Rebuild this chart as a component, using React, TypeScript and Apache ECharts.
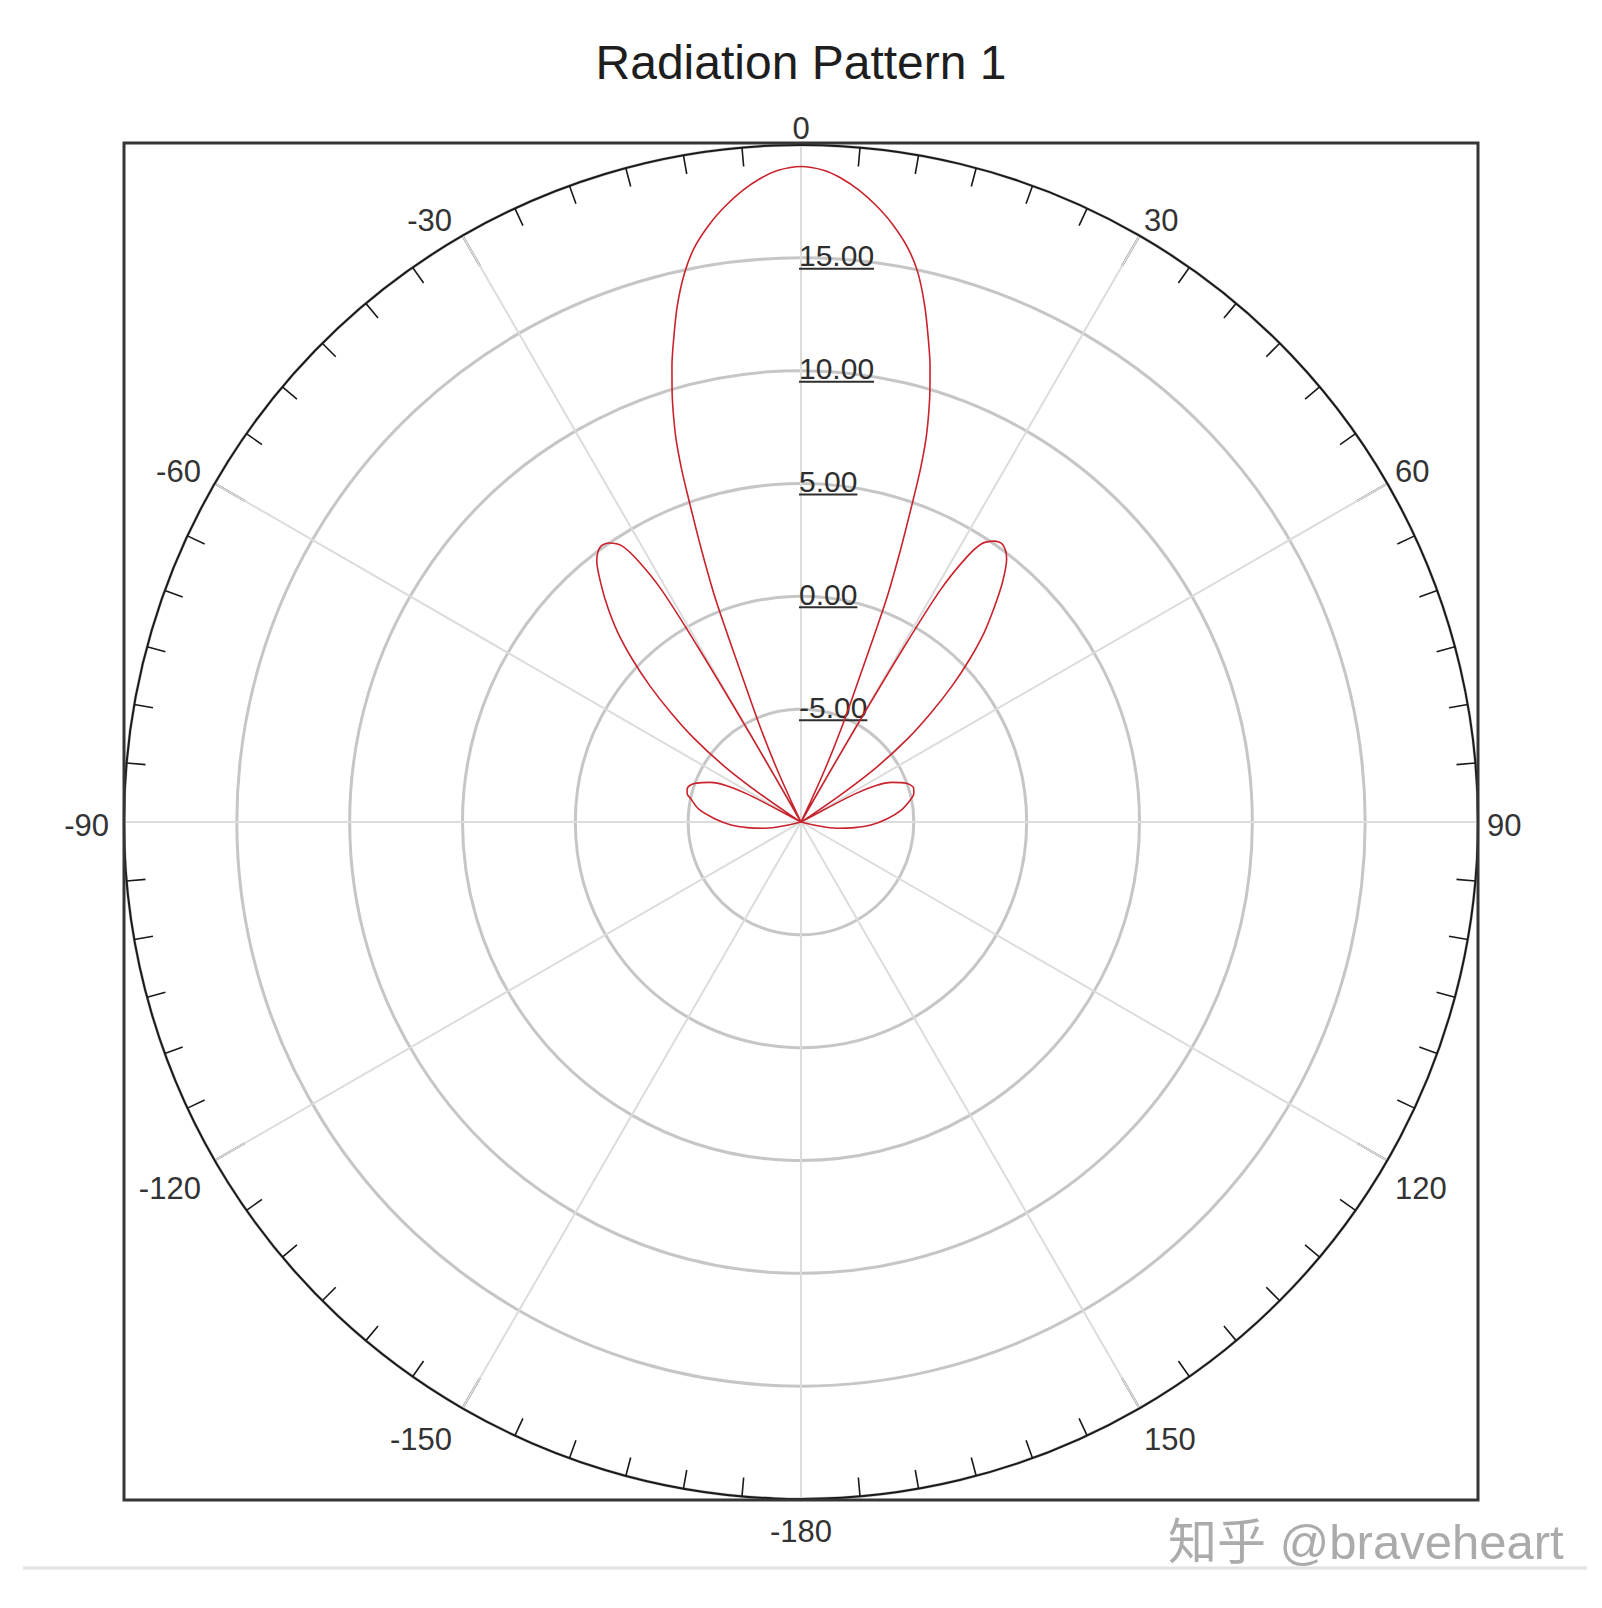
import React, { useEffect, useRef } from "react";
import * as echarts from "echarts";

const TITLE = "Radiation Pattern 1";
const WATERMARK = "知乎 @braveheart";
const FONT = '"Liberation Sans", Arial, Helvetica, sans-serif';

// angle axis (degrees) and radial axis (dB)
const ANGLE_MIN = -180;
const ANGLE_MAX = 180;
const ANGLE_STEP = 30;
const angleLabelValues = [-180, -150, -120, -90, -60, -30, 0, 30, 60, 90, 120, 150];
const GAIN_MIN = -10;
const GAIN_MAX = 20;
const GAIN_STEP = 5;
const gainLabelValues = [-5, 0, 5, 10, 15];

// pattern: angle (deg) -> gain (dB), -10 = centre
const patternAngles = [
  -180, -110, -105, -103, -100, -96, -92.5, -88, -83, -78, -76, -74, -72, -70, -66.5, -64, -62.5, -62, -61,
  -58, -57, -55.5, -54, -52, -50, -48, -46, -44, -42, -40, -38, -36, -34.5, -33, -32, -31, -30.5, -30, -29,
  -26.3, -25.5, -24.4, -23.3, -22.2, -21, -20.1, -19.2, -18.7, -18.1, -17.4, -16.6, -15.8, -14.8, -13.5,
  -12, -10.5, -8.7, -7, -5.3, -3.5, -2, 0,
  2, 3.5, 5.3, 7, 8.7, 10.5, 12, 13.5, 14.8, 15.8, 16.6, 17.4, 18.1, 18.7, 19.2, 20.1, 21, 22.2, 23.3,
  24.4, 25.5, 26.3,
  29, 30, 30.5, 31, 32, 33, 34.5, 36, 38, 40, 42, 44, 46, 48, 50, 52, 54, 55.5, 57, 58,
  61, 62, 62.5, 64, 66.5, 70, 72.5, 74, 76, 78, 83, 88, 92.5, 96, 100, 103, 105, 110, 180,
];
const patternGains = [
  -10, -10, -10, -9.3, -8.4, -7.6, -6.9, -6.2, -5.45, -5.0, -4.8, -4.75, -4.8, -5.0, -5.6, -6.3, -7.3, -8.5, -10,
  -10, -9.5, -7.7, -5.8, -4.0, -2.5, -1.0, 0.4, 1.7, 2.8, 3.8, 4.7, 5.1, 5.0, 4.6, 3.7, 2.0, -1.0, -6.0, -10,
  -10, -9.2, -7.3, -5.5, -3.55, 0.5, 2.8, 5.1, 6.5, 7.8, 8.9, 10.0, 11.0, 12.1, 13.5,
  14.85, 15.9, 16.8, 17.5, 18.1, 18.6, 18.9, 19.05,
  18.9, 18.6, 18.1, 17.5, 16.8, 15.9, 14.9, 13.5, 12.1, 11.0, 10.0, 8.9, 7.8, 6.5, 5.1, 2.8, 0.5, -3.5, -5.5,
  -7.3, -9.2, -10,
  -10, -6.0, -1.0, 2.0, 3.8, 4.7, 5.1, 5.2, 4.8, 3.9, 2.8, 1.7, 0.4, -1.0, -2.5, -4.0, -5.8, -7.7, -9.5, -10,
  -10, -8.5, -7.3, -6.3, -5.6, -5.0, -4.8, -4.8, -4.85, -5.0, -5.5, -6.2, -6.9, -7.6, -8.4, -9.3, -10, -10, -10,
];

let measureCtx: CanvasRenderingContext2D | null = null;
function textWidth(t: string, size: number): number {
  if (!measureCtx) measureCtx = document.createElement("canvas").getContext("2d");
  if (!measureCtx) return t.length * size * 0.55;
  measureCtx.font = `${size}px ${FONT}`;
  return measureCtx.measureText(t).width;
}

export default function App() {
  const ref = useRef<HTMLDivElement>(null);

  useEffect(() => {
    if (!ref.current) return;
    const chart = echarts.init(ref.current, undefined, { renderer: "svg" });

    const CX = 801;
    const CY = 822;
    const R = 677;
    const LABEL_SIZE = 30;
    const ANGLE_LABEL_SIZE = 31;
    const ANGLE_LABEL_MARGIN = 9;

    const option: any = {
      animation: false,
      backgroundColor: "#ffffff",
      title: {
        text: TITLE,
        left: "center",
        top: 38,
        padding: 0,
        textStyle: { fontSize: 48, fontWeight: "normal", color: "#1e1e1e", fontFamily: FONT },
      },
      polar: { center: [CX, CY], radius: R },
      angleAxis: {
        type: "value",
        min: ANGLE_MIN,
        max: ANGLE_MAX,
        interval: ANGLE_STEP,
        startAngle: 270,
        clockwise: true,
        axisLine: { show: true, lineStyle: { color: "#1a1a1a", width: 2 } },
        axisTick: { show: true, inside: true, length: 35, lineStyle: { color: "#1a1a1a", width: 2 } },
        minorTick: { show: true, splitNumber: 6, length: 19, lineStyle: { color: "#1a1a1a", width: 1.6 } },
        axisLabel: { show: false },
        splitLine: { show: true, lineStyle: { color: "#dcdcdc", width: 2 } },
      },
      radiusAxis: {
        type: "value",
        min: GAIN_MIN,
        max: GAIN_MAX,
        interval: GAIN_STEP,
        axisLine: { show: false },
        axisTick: { show: false },
        axisLabel: { show: false },
        splitLine: { show: true, lineStyle: { color: "#c6c6c6", width: 3 } },
      },
      series: [
        {
          // underlined dB labels along the 0° spoke
          type: "custom",
          coordinateSystem: "polar",
          silent: true,
          z: 1,
          data: gainLabelValues.map((v) => [v, 0]),
          renderItem: (params: any, api: any) => {
            const v = api.value(0);
            const p = api.coord([v, 0]);
            const txt = Number(v).toFixed(2);
            const w = textWidth(txt, LABEL_SIZE);
            return {
              type: "group",
              children: [
                {
                  type: "text",
                  x: p[0] - 2,
                  y: p[1] - 2,
                  style: {
                    text: txt,
                    fontSize: LABEL_SIZE,
                    fontFamily: FONT,
                    fill: "#2e2e2e",
                    align: "left",
                    verticalAlign: "middle",
                  },
                },
                {
                  type: "line",
                  shape: { x1: p[0] - 2, y1: p[1] + 11, x2: p[0] - 2 + w, y2: p[1] + 11 },
                  style: { stroke: "#2e2e2e", lineWidth: 2 },
                },
              ],
            };
          },
        },
        {
          // angle labels around the outer circle
          type: "custom",
          coordinateSystem: "polar",
          silent: true,
          z: 1,
          data: angleLabelValues.map((a) => [GAIN_MAX, a]),
          renderItem: (params: any, api: any) => {
            const a = api.value(1);
            const c = api.coord([GAIN_MIN, a]);
            const p = api.coord([GAIN_MAX, a]);
            const dx = p[0] - c[0];
            const dy = p[1] - c[1];
            const len = Math.sqrt(dx * dx + dy * dy) || 1;
            const ux = dx / len;
            const uy = dy / len;
            const ax = c[0] + ux * (len + ANGLE_LABEL_MARGIN);
            const ay = c[1] + uy * (len + ANGLE_LABEL_MARGIN);
            const align = Math.abs(ux) < 0.3 ? "center" : ux > 0 ? "left" : "right";
            const vAlign = Math.abs(uy) < 0.3 ? "middle" : uy > 0 ? "top" : "bottom";
            return {
              type: "text",
              x: ax + (align === "right" ? -6 : 0),
              y: ay + (vAlign === "middle" ? 3 : 8),
              style: {
                text: String(a),
                fontSize: ANGLE_LABEL_SIZE,
                fontFamily: FONT,
                fill: "#333333",
                align,
                verticalAlign: vAlign,
              },
            };
          },
        },
        {
          type: "line",
          coordinateSystem: "polar",
          z: 3,
          showSymbol: false,
          symbol: "none",
          smooth: 0.3,
          lineStyle: { color: "#c8232c", width: 1.6 },
          data: patternAngles.map((a, i) => [patternGains[i], a]),
        },
      ],
      graphic: [
        {
          type: "rect",
          z: 5,
          shape: { x: 124, y: 143, width: 1354, height: 1357 },
          style: { fill: "none", stroke: "#353535", lineWidth: 3 },
        },
        {
          type: "line",
          z: 5,
          shape: { x1: 23, y1: 1568, x2: 1587, y2: 1568 },
          style: { stroke: "#e2e2e2", lineWidth: 3 },
        },
        {
          type: "text",
          z: 6,
          x: 1168,
          y: 1542,
          style: {
            text: WATERMARK,
            fontSize: 49,
            fontFamily: '"Liberation Sans", Arial, "Noto Sans CJK SC", sans-serif',
            fill: "#ababab",
            align: "left",
            verticalAlign: "middle",
          },
        },
      ],
    };

    chart.setOption(option);
    return () => chart.dispose();
  }, []);

  return (
    <div
      ref={ref}
      style={{ position: "absolute", left: 0, top: 0, width: 1602, height: 1608, background: "#fff" }}
    />
  );
}
